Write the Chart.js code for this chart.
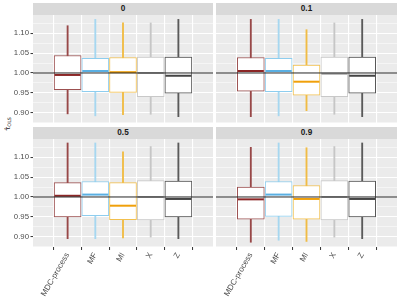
<!DOCTYPE html>
<html><head><meta charset="utf-8">
<script src="https://cdn.jsdelivr.net/npm/chart.js@4.4.0/dist/chart.umd.min.js"></script>
<style>
html,body{margin:0;padding:0;background:#fff;width:399px;height:308px;overflow:hidden;font-family:'Liberation Sans',Arial,sans-serif;}
canvas{position:absolute;}
.strip{position:absolute;background:#D9D9D9;color:#1A1A1A;font-weight:bold;font-size:8.2px;text-align:center;line-height:12px;height:12px;}
#ytbox{position:absolute;left:0;top:104px;width:16px;height:40px;display:flex;align-items:center;justify-content:center;}
#yt{display:inline-block;transform:rotate(-90deg);font-size:7px;line-height:8px;white-space:nowrap;color:#1a1a1a;font-family:'DejaVu Sans',sans-serif;}
#yt sub{font-size:4.8px;vertical-align:-1.5px;line-height:0;}
</style></head><body>
<div class="strip" style="left:33px;top:3px;width:180px">0</div>
<div class="strip" style="left:216px;top:3px;width:181px">0.1</div>
<div class="strip" style="left:33px;top:127px;width:180px">0.5</div>
<div class="strip" style="left:216px;top:127px;width:181px">0.9</div>
<div id="ytbox"><span id="yt">τ̂<sub>OLS</sub></span></div>
<canvas id="c0" width="213" height="108" style="left:0;top:15px"></canvas>
<canvas id="c1" width="197" height="108" style="left:200px;top:15px"></canvas>
<canvas id="c2" width="213" height="169" style="left:0;top:139px"></canvas>
<canvas id="c3" width="197" height="169" style="left:200px;top:139px"></canvas>
<script>
const categories = ['MDC-process','MF','MI','X','Z'];
const majorTicks = [0.90, 0.95, 1.00, 1.05, 1.10];
const minorTicks = [0.875, 0.925, 0.975, 1.025, 1.075, 1.125];
const refValue = 1.00;

// panel "0"
const lo_0  = [0.897, 0.892, 0.895, 0.896, 0.890];
const q1_0  = [0.958, 0.953, 0.951, 0.940, 0.949];
const med_0 = [0.995, 1.005, 1.002, 1.000, 0.993];
const q3_0  = [1.044, 1.037, 1.039, 1.040, 1.040];
const hi_0  = [1.119, 1.135, 1.126, 1.126, 1.135];
// panel "0.1"
const lo_1  = [0.890, 0.892, 0.905, 0.896, 0.890];
const q1_1  = [0.954, 0.953, 0.944, 0.940, 0.949];
const med_1 = [1.005, 1.005, 0.978, 0.998, 0.993];
const q3_1  = [1.039, 1.037, 1.020, 1.040, 1.040];
const hi_1  = [1.135, 1.135, 1.109, 1.126, 1.135];
// panel "0.5"
const lo_5  = [0.895, 0.895, 0.897, 0.899, 0.895];
const q1_5  = [0.950, 0.953, 0.943, 0.942, 0.950];
const med_5 = [1.003, 1.006, 0.978, 1.000, 0.995];
const q3_5  = [1.036, 1.039, 1.036, 1.041, 1.040];
const hi_5  = [1.136, 1.136, 1.114, 1.127, 1.136];
// panel "0.9"
const lo_9  = [0.886, 0.891, 0.888, 0.899, 0.895];
const q1_9  = [0.944, 0.951, 0.944, 0.942, 0.950];
const med_9 = [0.994, 1.006, 0.995, 1.000, 0.995];
const q3_9  = [1.025, 1.039, 1.029, 1.041, 1.040];
const hi_9  = [1.125, 1.136, 1.124, 1.127, 1.136];

const boxColors     = ['#9C5050', '#8ECDEE', '#F2C04E', '#C8C8C8', '#555555'];
const whiskerColors = ['#984848', '#A6D7F0', '#F0BC44', '#C6C6C6', '#5A5A5A'];
const medianColors  = ['#8B2626', '#5AAFE2', '#F0A00A', '#A8A8A8', '#444444'];

const yTicks = [...majorTicks, ...minorTicks].sort((a,b)=>a-b);
const isMajor = v => Math.abs(v*20 - Math.round(v*20)) < 1e-6;
const yFont = {family:"'Liberation Sans', Arial, sans-serif", size:7.8};
const xFont = {family:"'Liberation Sans', Arial, sans-serif", size:8};

const panelPlugin = {
  id:'panelBg',
  beforeDraw(chart){
    const {ctx, chartArea:a} = chart;
    ctx.save(); ctx.fillStyle = '#EBEBEB';
    ctx.fillRect(a.left, a.top, a.right-a.left, a.bottom-a.top);
    ctx.restore();
  },
  afterDatasetsDraw(chart){
    const {ctx, chartArea:a} = chart;
    const y = chart.scales.y.getPixelForValue(refValue);
    ctx.save(); ctx.strokeStyle = '#262626'; ctx.lineWidth = 1;
    ctx.beginPath(); ctx.moveTo(a.left, y); ctx.lineTo(a.right, y); ctx.stroke();
    ctx.restore();
  }
};

function makeChart(id, lo, q1, med, q3, hi, showY, showX){
  const xs = categories.map((c,i)=>i+1);
  new Chart(document.getElementById(id), {
    type:'bar',
    data:{ datasets:[
      {type:'line', data: xs.map((x,i)=>({x, y:med[i]})), showLine:false, pointStyle:'line',
       pointRadius:13, pointHoverRadius:13, pointBorderWidth:2, pointBorderColor: medianColors, order:1},
      {type:'bar', data: xs.map((x,i)=>({x, y:[q1[i], q3[i]]})), backgroundColor:'#FFFFFF',
       borderColor: boxColors, borderWidth:1, borderSkipped:false, barThickness:27, grouped:false, order:2},
      {type:'bar', data: xs.map((x,i)=>({x, y:[lo[i], hi[i]]})), backgroundColor: whiskerColors,
       borderWidth:0, barThickness:1.2, grouped:false, order:3}
    ]},
    options:{
      responsive:false, animation:false, events:[],
      plugins:{legend:{display:false}, tooltip:{enabled:false}},
      layout:{padding:0, autoPadding:false},
      scales:{
        x:{ type:'linear', min:0.4, max:5.6,
            afterBuildTicks: s => { s.ticks = xs.map(v=>({value:v})); },
            ticks:{display:showX, autoSkip:false, minRotation:60, maxRotation:60, color:'#4D4D4D', font:xFont, padding:1,
                   callback: v => categories[Math.round(v)-1]},
            grid:{color:'#FFFFFF', lineWidth:1.1, drawTicks:showX, tickLength:3, tickColor:'#333333', tickWidth:1},
            border:{display:false},
            afterFit: s => { s.height = showX ? 61 : 0; s.paddingLeft = 0; s.paddingRight = 0; } },
        y:{ min:0.874, max:1.146,
            afterBuildTicks: s => { s.ticks = yTicks.map(v=>({value:v})); },
            ticks:{display:showY, autoSkip:false, color:'#4D4D4D', font:yFont, padding:1.5,
                   callback: v => isMajor(v) ? v.toFixed(2) : ''},
            grid:{color:'#FFFFFF', lineWidth: c => isMajor(c.tick.value) ? 1.1 : 0.5,
                  drawTicks:showY, tickLength:2.5, tickWidth:1,
                  tickColor: c => isMajor(c.tick.value) ? '#333333' : 'rgba(0,0,0,0)'},
            border:{display:false},
            afterFit: s => { s.width = showY ? 33 : 16; s.paddingTop = 0; s.paddingBottom = 0; } }
      }
    },
    plugins:[panelPlugin]
  });
}

makeChart('c0', lo_0, q1_0, med_0, q3_0, hi_0, true, false);
makeChart('c1', lo_1, q1_1, med_1, q3_1, hi_1, false, false);
makeChart('c2', lo_5, q1_5, med_5, q3_5, hi_5, true, true);
makeChart('c3', lo_9, q1_9, med_9, q3_9, hi_9, false, true);
</script>
</body></html>
